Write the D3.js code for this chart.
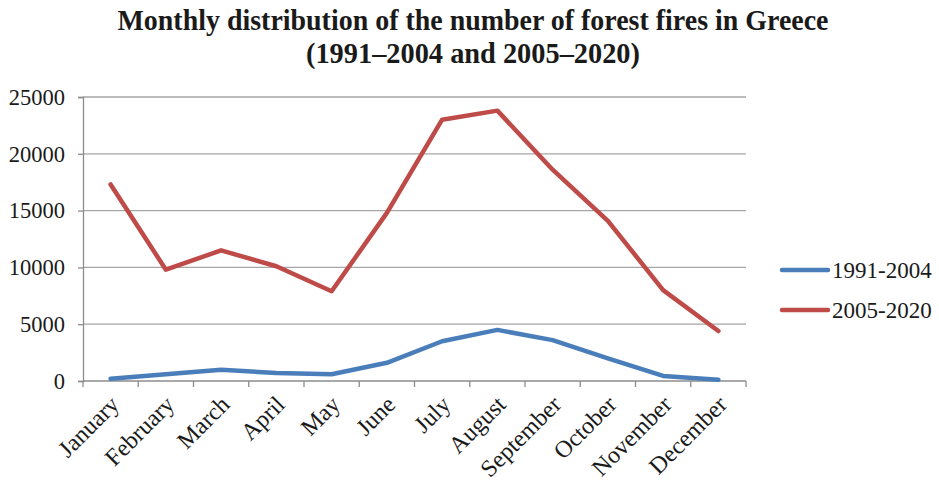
<!DOCTYPE html>
<html>
<head>
<meta charset="utf-8">
<script src="https://cdn.jsdelivr.net/npm/d3@7"></script>
<style>
  html, body { margin: 0; padding: 0; background: #fff; }
  svg { display: block; font-family: "Liberation Serif", "Times New Roman", serif; }
</style>
</head>
<body>
<svg id="chart" width="939" height="481"></svg>
<script>
// Monthly counts of forest fires in Greece, two periods
const months = ["January", "February", "March", "April", "May", "June",
  "July", "August", "September", "October", "November", "December"];
const fires1991_2004 = [200, 600, 1000, 700, 600, 1600, 3500, 4500, 3600, 2000, 450, 100];
const fires2005_2020 = [17300, 9800, 11500, 10100, 7900, 14800, 23000, 23800, 18600, 14100, 8000, 4400];
const seriesNames = ["1991-2004", "2005-2020"];
const seriesColors = ["#4A7EBB", "#BE4B48"];
const yTicks = [0, 5000, 10000, 15000, 20000, 25000];
const titleLines = ["Monthly distribution of the number of forest fires in Greece",
  "(1991\u20132004 and 2005\u20132020)"];

const svg = d3.select("#chart");
const plot = { left: 83, right: 746, top: 97, bottom: 381 };

const x = d3.scaleBand().domain(months).range([plot.left, plot.right]);
const y = d3.scaleLinear().domain([0, 25000]).range([plot.bottom, plot.top]);

// Title
const titleWidths = [711, 334];
titleLines.forEach((t, i) => {
  svg.append("text")
    .attr("x", 473).attr("y", 30 + i * 33)
    .attr("text-anchor", "middle")
    .attr("font-weight", "bold")
    .attr("font-size", 29)
    .attr("fill", "#1a1a1a")
    .attr("textLength", titleWidths[i])
    .attr("lengthAdjust", "spacingAndGlyphs")
    .text(t);
});

// Horizontal gridlines
svg.append("g")
  .selectAll("line")
  .data(yTicks.filter(d => d > 0))
  .join("line")
  .attr("x1", plot.left).attr("x2", plot.right)
  .attr("y1", d => y(d)).attr("y2", d => y(d))
  .attr("stroke", "#a6a6a6").attr("stroke-width", 1.3);

// Y axis
const yAxis = svg.append("g")
  .attr("transform", `translate(${plot.left},0)`)
  .call(d3.axisLeft(y).tickValues(yTicks).tickSize(5).tickPadding(13).tickFormat(d3.format("d")));
yAxis.select(".domain").attr("stroke", "#8c8c8c").attr("stroke-width", 1.3);
yAxis.selectAll(".tick line").attr("stroke", "#8c8c8c").attr("stroke-width", 1.3);
yAxis.selectAll(".tick text")
  .attr("font-family", "Liberation Serif, serif")
  .attr("font-size", 22.5).attr("fill", "#1a1a1a");

// X axis with ticks at category boundaries
const boundaries = d3.range(months.length + 1).map(i => plot.left + i * x.step());
const xAxisG = svg.append("g");
xAxisG.append("line")
  .attr("x1", plot.left).attr("x2", plot.right)
  .attr("y1", plot.bottom).attr("y2", plot.bottom)
  .attr("stroke", "#8c8c8c").attr("stroke-width", 1.3);
xAxisG.selectAll("line.tk")
  .data(boundaries)
  .join("line").attr("class", "tk")
  .attr("x1", d => d).attr("x2", d => d)
  .attr("y1", plot.bottom).attr("y2", plot.bottom + 6)
  .attr("stroke", "#8c8c8c").attr("stroke-width", 1.3);
xAxisG.selectAll("text")
  .data(months)
  .join("text")
  .attr("transform", d => `translate(${x(d) + x.bandwidth() / 2 + 4},${plot.bottom + 19}) rotate(-45)`)
  .attr("text-anchor", "end")
  .attr("dy", "0.35em")
  .attr("font-size", 24)
  .attr("fill", "#1a1a1a")
  .text(d => d);

// Series lines
const line = d3.line()
  .x((d, i) => x(months[i]) + x.bandwidth() / 2)
  .y(d => y(d));

[fires1991_2004, fires2005_2020].forEach((vals, k) => {
  svg.append("path")
    .datum(vals)
    .attr("d", line)
    .attr("fill", "none")
    .attr("stroke", seriesColors[k])
    .attr("stroke-width", 4.5)
    .attr("stroke-linejoin", "round")
    .attr("stroke-linecap", "round");
});

// Legend
const legend = svg.append("g");
seriesNames.forEach((name, k) => {
  const ly = 270 + k * 40;
  legend.append("line")
    .attr("x1", 782).attr("x2", 828)
    .attr("y1", ly).attr("y2", ly)
    .attr("stroke", seriesColors[k])
    .attr("stroke-width", 4.5)
    .attr("stroke-linecap", "round");
  legend.append("text")
    .attr("x", 832).attr("y", ly)
    .attr("dy", "0.35em")
    .attr("font-size", 23)
    .attr("fill", "#1a1a1a")
    .text(name);
});
</script>
</body>
</html>
